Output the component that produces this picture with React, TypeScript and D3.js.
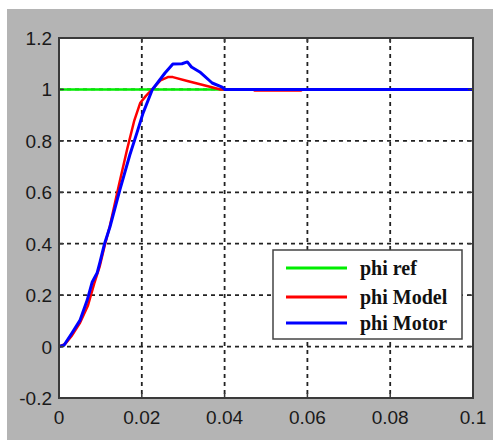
import React from "react";
import * as d3 from "d3";

const xTicks = [0, 0.02, 0.04, 0.06, 0.08, 0.1];
const yTicks = [-0.2, 0, 0.2, 0.4, 0.6, 0.8, 1, 1.2];

const tRef = [0, 0.1];
const phiRef = [1, 1];

const tModel = [0, 0.0015, 0.003, 0.005, 0.007, 0.0085, 0.0098, 0.011, 0.0123, 0.0145, 0.0165, 0.0182, 0.0196, 0.021, 0.0225, 0.0245, 0.0263, 0.0275, 0.031, 0.0348, 0.039, 0.047, 0.0472, 0.0585, 0.0587, 0.1];
const phiModel = [0, 0.01, 0.04, 0.09, 0.16, 0.245, 0.31, 0.39, 0.47, 0.63, 0.77, 0.88, 0.947, 0.975, 1.0, 1.035, 1.048, 1.048, 1.033, 1.017, 1.0, 1.0, 0.996, 0.996, 1.0, 1.0];

const tMotor = [0, 0.0012, 0.0031, 0.0051, 0.0068, 0.008, 0.0092, 0.0099, 0.011, 0.0123, 0.0147, 0.0171, 0.0188, 0.0203, 0.0225, 0.0256, 0.0275, 0.0297, 0.031, 0.032, 0.034, 0.037, 0.0394, 0.04, 0.1];
const phiMotor = [0, 0.005, 0.052, 0.103, 0.18, 0.25, 0.286, 0.328, 0.4, 0.465, 0.609, 0.745, 0.83, 0.908, 0.998, 1.064, 1.099, 1.1, 1.107, 1.087, 1.068, 1.025, 1.009, 1.0, 1.0];

const seriesNames = ["phi ref", "phi Model", "phi Motor"];
const seriesColors = ["#00ee00", "#ff0000", "#0000ff"];

export default function App() {
  const W = 493, H = 440;
  const plot = { left: 59, top: 38, right: 473, bottom: 398 };

  const x = d3.scaleLinear().domain([0, 0.1]).range([plot.left, plot.right]);
  const y = d3.scaleLinear().domain([-0.2, 1.2]).range([plot.bottom, plot.top]);

  const line = d3.line<[number, number]>()
    .x(d => x(d[0]))
    .y(d => y(d[1]));

  const series = [
    { t: tRef, v: phiRef, w: 2.5 },
    { t: tModel, v: phiModel, w: 2.5 },
    { t: tMotor, v: phiMotor, w: 3 },
  ];

  const fmt = (v: number) => String(+v.toFixed(2));

  // legend box
  const lg = { x: 273, y: 250, w: 189, h: 89 };
  const rowY = [268, 297, 323];

  return (
    <svg width={W} height={H} style={{ position: "absolute", left: 0, top: 0 }}>
      <rect x={0} y={0} width={W} height={H} fill="#ffffff" />
      <rect x={7} y={9} width={W - 7} height={H - 9} fill="#b4b4b4" />
      <rect x={plot.left} y={plot.top} width={plot.right - plot.left} height={plot.bottom - plot.top} fill="#ffffff" />

      {/* grid */}
      {xTicks.slice(1, -1).map(t => (
        <line key={"gx" + t} x1={x(t)} x2={x(t)} y1={plot.top} y2={plot.bottom}
          stroke="#222" strokeWidth={1.8} strokeDasharray="4,4" />
      ))}
      {yTicks.slice(1, -1).map(t => (
        <line key={"gy" + t} x1={plot.left} x2={plot.right} y1={y(t)} y2={y(t)}
          stroke="#222" strokeWidth={1.8} strokeDasharray="4,4" />
      ))}

      {/* curves */}
      {series.map((s, i) => (
        <path key={i} d={line(s.t.map((t, j) => [t, s.v[j]] as [number, number])) || ""}
          fill="none" stroke={seriesColors[i]} strokeWidth={s.w} strokeLinejoin="round" />
      ))}

      {/* box */}
      <rect x={plot.left} y={plot.top} width={plot.right - plot.left} height={plot.bottom - plot.top}
        fill="none" stroke="#3a3a3a" strokeWidth={2} />

      {/* ticks */}
      {xTicks.map(t => (
        <g key={"tx" + t}>
          <line x1={x(t)} x2={x(t)} y1={plot.bottom} y2={plot.bottom - 5} stroke="#3a3a3a" strokeWidth={1.5} />
          <line x1={x(t)} x2={x(t)} y1={plot.top} y2={plot.top + 5} stroke="#3a3a3a" strokeWidth={1.5} />
          <text x={x(t)} y={424} textAnchor="middle" fontFamily="Arial, 'Liberation Sans', sans-serif"
            fontSize={19} fill="#1a1a1a">{fmt(t)}</text>
        </g>
      ))}
      {yTicks.map(t => (
        <g key={"ty" + t}>
          <line x1={plot.left} x2={plot.left + 5} y1={y(t)} y2={y(t)} stroke="#3a3a3a" strokeWidth={1.5} />
          <line x1={plot.right} x2={plot.right - 5} y1={y(t)} y2={y(t)} stroke="#3a3a3a" strokeWidth={1.5} />
          <text x={52} y={y(t) + 7} textAnchor="end" fontFamily="Arial, 'Liberation Sans', sans-serif"
            fontSize={19} fill="#1a1a1a">{fmt(t)}</text>
        </g>
      ))}

      {/* legend */}
      <rect x={lg.x} y={lg.y} width={lg.w} height={lg.h} fill="#ffffff" stroke="#444" strokeWidth={1.5} />
      {seriesNames.map((n, i) => (
        <g key={n}>
          <line x1={286} x2={347} y1={rowY[i]} y2={rowY[i]} stroke={seriesColors[i]} strokeWidth={3} />
          <text x={360} y={rowY[i] + 7} fontFamily="'Liberation Serif', 'Times New Roman', serif"
            fontWeight="bold" fontSize={20} fill="#111">{n}</text>
        </g>
      ))}
    </svg>
  );
}
